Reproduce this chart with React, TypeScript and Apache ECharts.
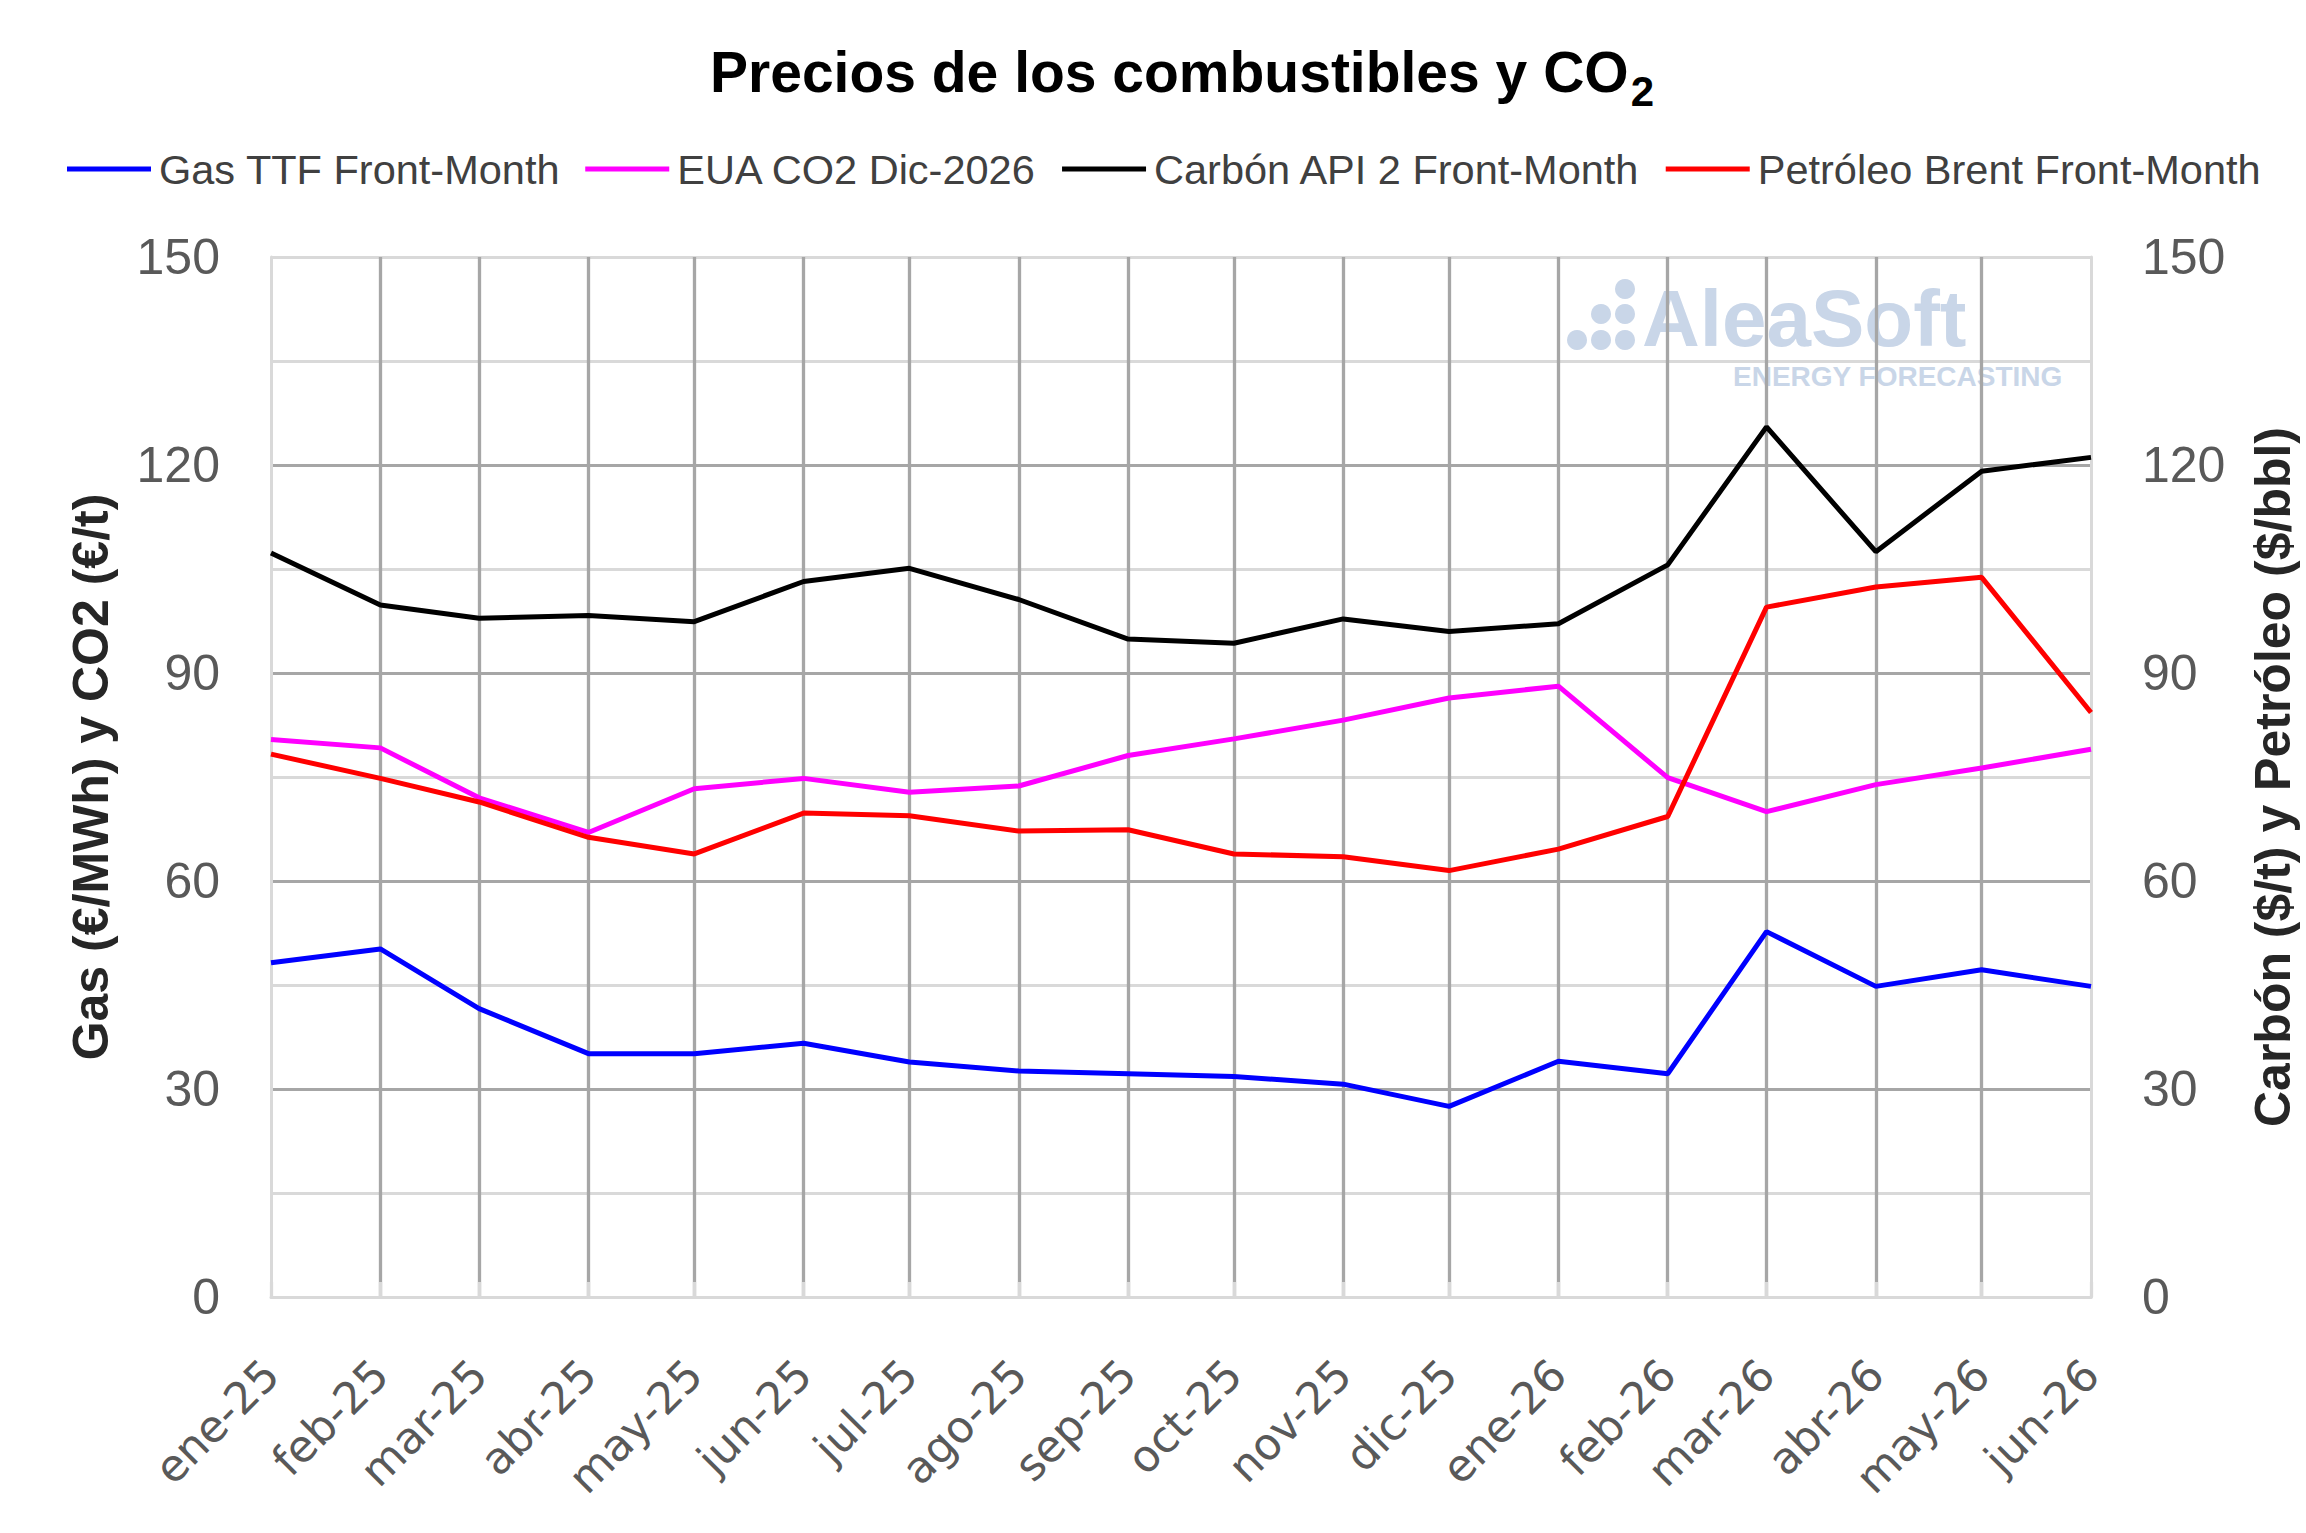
import React, { useEffect, useRef } from "react";
import * as echarts from "echarts";

const MONTHS = [
  "2025-01", "2025-02", "2025-03", "2025-04", "2025-05", "2025-06",
  "2025-07", "2025-08", "2025-09", "2025-10", "2025-11", "2025-12",
  "2026-01", "2026-02", "2026-03", "2026-04", "2026-05", "2026-06",
];
const MONTH_ABBR = ["ene", "feb", "mar", "abr", "may", "jun", "jul", "ago", "sep", "oct", "nov", "dic"];

const SERIES_NAMES = [
  "Gas TTF Front-Month",
  "EUA CO2 Dic-2026",
  "Carbón API 2 Front-Month",
  "Petróleo Brent Front-Month",
];
const SERIES_COLORS = ["#0000ff", "#ff00ff", "#000000", "#ff0000"];

const GAS_TTF = [48.2, 50.2, 41.6, 35.1, 35.1, 36.6, 33.9, 32.6, 32.2, 31.8, 30.7, 27.5, 34.0, 32.2, 52.7, 44.8, 47.2, 44.8];
const EUA_CO2 = [80.4, 79.2, 72.0, 67.0, 73.3, 74.8, 72.8, 73.7, 78.1, 80.5, 83.2, 86.4, 88.1, 74.9, 70.0, 73.9, 76.3, 79.0];
const CARBON_API2 = [107.3, 99.8, 97.9, 98.3, 97.4, 103.2, 105.1, 100.6, 94.9, 94.3, 97.8, 96.0, 97.1, 105.6, 125.5, 107.5, 119.1, 121.1];
const BRENT = [78.3, 74.8, 71.4, 66.3, 63.9, 69.8, 69.4, 67.2, 67.4, 63.9, 63.5, 61.5, 64.6, 69.3, 99.5, 102.4, 103.8, 84.3];

const Y_MIN = 0;
const Y_MAX = 150;
const Y_STEP = 15;
const Y_LABEL_STEP = 30;

const LEFT_AXIS_NAME = "Gas (€/MWh) y CO2 (€/t)";
const RIGHT_AXIS_NAME = "Carbón ($/t) y Petróleo ($/bbl)";
const TITLE_MAIN = "Precios de los combustibles y CO";
const TITLE_SUB = "2";

const FONT = "'Liberation Sans', Arial, sans-serif";
const XFONT = "'DejaVu Sans', Verdana, sans-serif";

function toTime(m: string): number {
  const [y, mo] = m.split("-").map(Number);
  return Date.UTC(y, mo - 1, 1);
}

function fmtMonth(v: number): string {
  const d = new Date(v);
  return MONTH_ABBR[d.getUTCMonth()] + "-" + String(d.getUTCFullYear()).slice(2);
}

function textWidth(text: string, font: string): number {
  const c = document.createElement("canvas");
  const ctx = c.getContext("2d");
  if (!ctx) return text.length * 30;
  ctx.font = font;
  return ctx.measureText(text).width;
}

export default function App() {
  const ref = useRef<HTMLDivElement>(null);

  useEffect(() => {
    if (!ref.current) return;
    const chart = echarts.init(ref.current, undefined, { renderer: "svg" });
    const xTicks = MONTHS.map(toTime);
    const seriesValues = [GAS_TTF, EUA_CO2, CARBON_API2, BRENT];

    const nLines = (Y_MAX - Y_MIN) / Y_STEP + 1;
    const splitColors: string[] = [];
    for (let i = 0; i < nLines; i++) {
      const v = Y_MIN + i * Y_STEP;
      splitColors.push(v !== Y_MIN && v !== Y_MAX && v % Y_LABEL_STEP === 0 ? "#a6a6a6" : "#d9d9d9");
    }

    const yLabelFmt = (v: number) => (v % Y_LABEL_STEP === 0 ? String(v) : "");

    // title layout (main text + subscript), centred on the plot
    const TITLE_SIZE = 57;
    const SUB_SIZE = 42;
    const wMain = textWidth(TITLE_MAIN, "bold " + TITLE_SIZE + "px 'Liberation Sans', Arial, sans-serif");
    const titleCenter = 1182;
    const wSub = textWidth(TITLE_SUB, "bold " + SUB_SIZE + "px 'Liberation Sans', Arial, sans-serif");
    const titleStart = titleCenter - (wMain + wSub + 2) / 2;

    const option: any = {
      animation: false,
      backgroundColor: "#ffffff",
      textStyle: { fontFamily: FONT },
      grid: { left: 271, right: 212, top: 257, bottom: 236, containLabel: false },
      legend: {
        data: SERIES_NAMES,
        left: 62,
        top: 143,
        icon: "rect",
        itemWidth: 84,
        itemHeight: 5,
        itemGap: 25,
        textStyle: { fontSize: 41.5, color: "#404040", fontFamily: FONT, padding: [0, 0, 0, 3] },
      },
      xAxis: {
        type: "value",
        min: xTicks[0],
        max: xTicks[xTicks.length - 1],
        axisLine: { show: true, onZero: false, lineStyle: { color: "#d9d9d9", width: 3 } },
        axisTick: {
          show: true,
          inside: true,
          length: 15,
          customValues: xTicks,
          lineStyle: { color: "#d9d9d9", width: 3.3 },
        },
        axisLabel: {
          customValues: xTicks,
          formatter: fmtMonth,
          rotate: 45,
          margin: 70,
          fontSize: 44,
          color: "#595959",
          fontFamily: XFONT,
          showMinLabel: true,
          showMaxLabel: true,
          hideOverlap: false,
        },
        splitLine: {
          show: true,
          showMinLine: false,
          showMaxLine: false,
          lineStyle: { color: "#a6a6a6", width: 3.3 },
        },
      },
      yAxis: [
        {
          type: "value",
          position: "left",
          min: Y_MIN,
          max: Y_MAX,
          interval: Y_STEP,
          name: LEFT_AXIS_NAME,
          nameLocation: "middle",
          nameRotate: 90,
          nameGap: 155,
          nameTextStyle: { fontSize: 50, fontWeight: "bold", color: "#262626", fontFamily: FONT },
          axisLine: { show: true, lineStyle: { color: "#d9d9d9", width: 3 } },
          axisTick: { show: false },
          axisLabel: { formatter: yLabelFmt, margin: 51, fontSize: 50, color: "#595959", fontFamily: FONT },
          splitLine: { show: true, lineStyle: { color: splitColors, width: 3 } },
        },
        {
          type: "value",
          position: "right",
          min: Y_MIN,
          max: Y_MAX,
          interval: Y_STEP,
          name: RIGHT_AXIS_NAME,
          nameLocation: "middle",
          nameRotate: 90,
          nameGap: 157,
          nameTextStyle: { fontSize: 50, fontWeight: "bold", color: "#262626", fontFamily: FONT },
          axisLine: { show: true, lineStyle: { color: "#d9d9d9", width: 3 } },
          axisTick: { show: false },
          axisLabel: { formatter: yLabelFmt, margin: 51, fontSize: 50, color: "#595959", fontFamily: FONT },
          splitLine: { show: false },
        },
      ],
      graphic: [
        {
          type: "text",
          x: titleStart,
          y: 72,
          style: {
            text: TITLE_MAIN,
            fontSize: TITLE_SIZE,
            fontWeight: "bold",
            fontFamily: FONT,
            fill: "#000000",
            align: "left",
            verticalAlign: "middle",
            lineHeight: TITLE_SIZE,
          },
        },
        {
          type: "text",
          x: titleStart + wMain + 2,
          y: 91,
          style: {
            text: TITLE_SUB,
            fontSize: SUB_SIZE,
            fontWeight: "bold",
            fontFamily: FONT,
            fill: "#000000",
            align: "left",
            verticalAlign: "middle",
            lineHeight: 30,
          },
        },
        { type: "circle", z: -1, shape: { cx: 1577, cy: 340, r: 10 }, style: { fill: "#c9d6e8" } },
        { type: "circle", z: -1, shape: { cx: 1601, cy: 340, r: 10 }, style: { fill: "#c9d6e8" } },
        { type: "circle", z: -1, shape: { cx: 1625, cy: 340, r: 10 }, style: { fill: "#c9d6e8" } },
        { type: "circle", z: -1, shape: { cx: 1601, cy: 314, r: 10 }, style: { fill: "#c9d6e8" } },
        { type: "circle", z: -1, shape: { cx: 1625, cy: 314, r: 10 }, style: { fill: "#c9d6e8" } },
        { type: "circle", z: -1, shape: { cx: 1625, cy: 289, r: 10 }, style: { fill: "#c9d6e8" } },
        {
          type: "text",
          z: -1,
          x: 1642,
          y: 318,
          style: {
            text: "AleaSoft",
            fontSize: 80,
            fontWeight: "bold",
            fontFamily: FONT,
            fill: "#c9d6e8",
            align: "left",
            verticalAlign: "middle",
            lineHeight: 64,
          },
        },
        {
          type: "text",
          z: -1,
          x: 1733,
          y: 376,
          style: {
            text: "ENERGY FORECASTING",
            fontSize: 28,
            fontWeight: "bold",
            fontFamily: FONT,
            fill: "#c9d6e8",
            align: "left",
            verticalAlign: "middle",
            lineHeight: 22,
          },
        },
      ],
      series: SERIES_NAMES.map((name, k) => ({
        name,
        type: "line",
        yAxisIndex: k < 2 ? 0 : 1,
        symbol: "none",
        showSymbol: false,
        lineStyle: { color: SERIES_COLORS[k], width: 5 },
        itemStyle: { color: SERIES_COLORS[k] },
        z: 3,
        data: MONTHS.map((m, i) => [toTime(m), seriesValues[k][i]]),
      })),
    };

    chart.setOption(option);
    return () => chart.dispose();
  }, []);

  return (
    <div
      ref={ref}
      style={{ position: "fixed", left: 0, top: 0, width: "2306px", height: "1533px", background: "#fff" }}
    />
  );
}
